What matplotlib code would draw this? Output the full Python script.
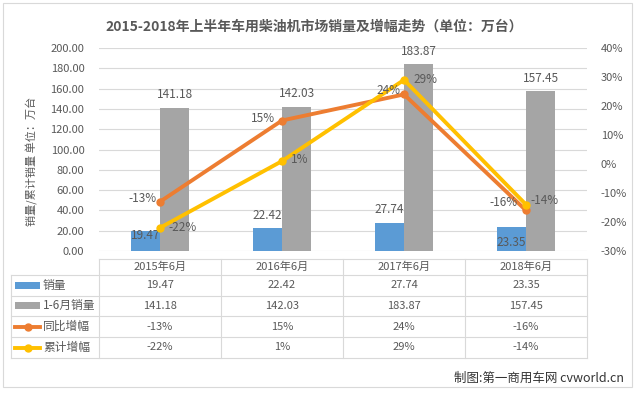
import matplotlib
matplotlib.use('Agg')
import matplotlib.pyplot as plt
from matplotlib.patches import Rectangle

plt.rcParams['font.family'] = ['Noto Sans CJK SC', 'DejaVu Sans']

categories = ['2015年6月', '2016年6月', '2017年6月', '2018年6月']
month_sales = [19.47, 22.42, 27.74, 23.35]
ytd_sales = [141.18, 142.03, 183.87, 157.45]
yoy_growth = [-13, 15, 24, -16]
ytd_growth = [-22, 1, 29, -14]
series_names = ['销量', '1-6月销量', '同比增幅', '累计增幅']

BLUE = '#5B9BD5'
GRAY = '#A5A5A5'
ORANGE = '#ED7D31'
YELLOW = '#FFC000'
TXT = '#595959'
GRID = '#D9D9D9'

W, H = 635, 393
fig = plt.figure(figsize=(W / 100, H / 100), dpi=100)
fig.patch.set_facecolor('white')

def fbox(x0, y0, x1, y1):
    # pixel box (top-left origin) -> figure fraction
    return [x0 / W, 1 - y1 / H, (x1 - x0) / W, (y1 - y0) / H]

# chart border
fig.add_artist(Rectangle((3 / W, 1 - 387 / H), 629 / W, 384 / H, transform=fig.transFigure,
                         fill=False, edgecolor=GRID, linewidth=0.8))

ax = fig.add_axes(fbox(99, 48, 587, 251))
x = list(range(len(categories)))
bw = 0.238
ax.bar([i - bw / 2 for i in x], month_sales, bw, color=BLUE, zorder=2)
ax.bar([i + bw / 2 for i in x], ytd_sales, bw, color=GRAY, zorder=2)
ax.set_xlim(-0.5, 3.5)
ax.set_ylim(0, 200)
ax.set_yticks(range(0, 201, 20))
ax.set_yticklabels(['%.2f' % v for v in range(0, 201, 20)])
ax.yaxis.grid(True, color=GRID, linewidth=0.8)
ax.set_axisbelow(True)
ax.set_xticks([])
ax.tick_params(axis='y', length=0, pad=10.5, labelsize=8, labelcolor=TXT)
for s in ax.spines.values():
    s.set_visible(False)
ax.set_ylabel('销量/累计销量 单位：万台', fontsize=8, color=TXT)
ax.yaxis.set_label_coords(-0.124, 0.44)

blue_off = [-4, 13, 13, -15]
for i, v in enumerate(month_sales):
    ax.annotate('%.2f' % v, (i - bw / 2, v), xytext=(0, blue_off[i]), textcoords='offset pixels',
                ha='center', va='center', fontsize=8.5, color=TXT)
for i, v in enumerate(ytd_sales):
    ax.annotate('%.2f' % v, (i + bw / 2, v), xytext=(0, 13), textcoords='offset pixels',
                ha='center', va='center', fontsize=8.5, color=TXT)

ax2 = ax.twinx()
ax2.set_ylim(-30, 40)
ax2.set_yticks(range(-30, 41, 10))
ax2.set_yticklabels(['%d%%' % v for v in range(-30, 41, 10)])
ax2.tick_params(axis='y', length=0, pad=10, labelsize=8, labelcolor=TXT)
for s in ax2.spines.values():
    s.set_visible(False)
ax2.plot(x, yoy_growth, color=ORANGE, lw=2.8, marker='o', ms=5, zorder=3)
ax2.plot(x, ytd_growth, color=YELLOW, lw=2.8, marker='o', ms=5, zorder=4)

yoy_off = [(-17, 3), (-19, 2), (-16, 4), (-22, 8)]
ytd_off = [(23, 0), (18, 2), (21, 0), (19, 4)]
for i, v in enumerate(yoy_growth):
    ax2.annotate('%d%%' % v, (i, v), xytext=yoy_off[i], textcoords='offset pixels',
                 ha='center', va='center', fontsize=8.5, color=TXT, zorder=5)
for i, v in enumerate(ytd_growth):
    ax2.annotate('%d%%' % v, (i, v), xytext=ytd_off[i], textcoords='offset pixels',
                 ha='center', va='center', fontsize=8.5, color=TXT, zorder=5)

fig.text(314 / W, 1 - 27 / H, '2015-2018年上半年车用柴油机市场销量及增幅走势（单位：万台）',
         ha='center', va='center', fontsize=10, fontweight='bold', color=TXT)

# data table below the plot
left_ext = -0.5 - 88 / 122
tb = fig.add_axes(fbox(11, 259, 587, 358))
tb.set_xlim(left_ext, 3.5)
tb.set_ylim(99, 0)
tb.axis('off')
rows = [0, 16, 36.5, 57, 78, 99]
lw = 0.8
tb.plot([-0.5, 3.5], [rows[0]] * 2, color=GRID, lw=lw, clip_on=False)
for r in rows[1:]:
    tb.plot([left_ext, 3.5], [r, r], color=GRID, lw=lw, clip_on=False)
for c in [-0.5, 0.5, 1.5, 2.5, 3.5]:
    tb.plot([c, c], [rows[0], rows[-1]], color=GRID, lw=lw, clip_on=False)
tb.plot([left_ext, left_ext], [rows[1], rows[-1]], color=GRID, lw=lw, clip_on=False)

for i, c in enumerate(categories):
    tb.text(i, (rows[0] + rows[1]) / 2, c, ha='center', va='center', fontsize=8, color=TXT)

table_rows = [
    ['%.2f' % v for v in month_sales],
    ['%.2f' % v for v in ytd_sales],
    ['%d%%' % v for v in yoy_growth],
    ['%d%%' % v for v in ytd_growth],
]
key_colors = [BLUE, GRAY, ORANGE, YELLOW]
px = 1 / 122
for r, vals in enumerate(table_rows):
    yc = (rows[r + 1] + rows[r + 2]) / 2
    for i, t in enumerate(vals):
        tb.text(i, yc, t, ha='center', va='center', fontsize=8, color=TXT)
    k0 = left_ext + 4 * px
    k1 = left_ext + 29 * px
    if r < 2:
        tb.add_patch(Rectangle((k0, yc - 3.5), k1 - k0, 7, color=key_colors[r], lw=0))
    else:
        tb.plot([k0, k1], [yc, yc], color=key_colors[r], lw=2.8)
        tb.plot([(k0 + k1) / 2], [yc], 'o', color=key_colors[r], ms=5)
    tb.text(left_ext + 32 * px, yc, series_names[r], ha='left', va='center', fontsize=8.5, color=TXT)

fig.text(624 / W, 1 - 378 / H, '制图:第一商用车网 cvworld.cn', ha='right', va='center',
         fontsize=9, color='#333333')

fig.savefig('out.png', dpi=100)
